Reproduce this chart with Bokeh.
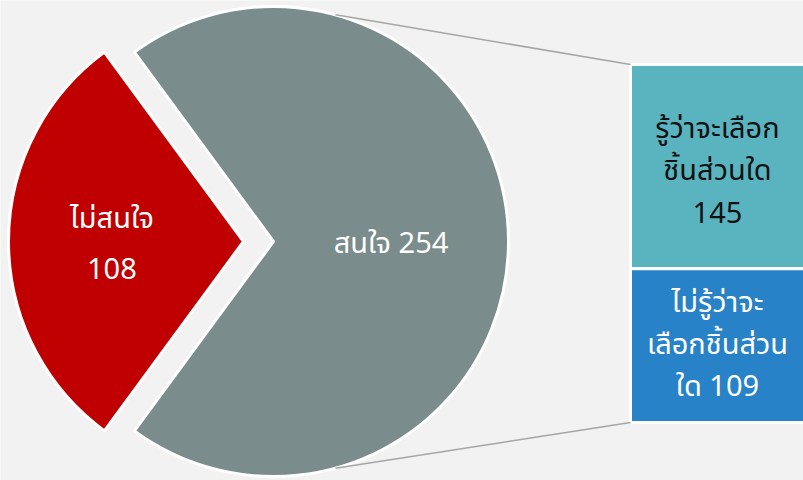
import math
from bokeh.plotting import figure
from bokeh.models import Range1d
from bokeh.core.properties import value
from bokeh.embed import file_html
from bokeh.resources import INLINE

# ---- data ----
pie_labels = ["ไม่สนใจ", "สนใจ"]
pie_values = [108, 254]
pie_colors = ["#c00000", "#7b8c8c"]

bar_labels = ["รู้ว่าจะเลือกชิ้นส่วนใด", "ไม่รู้ว่าจะเลือกชิ้นส่วนใด"]
bar_values = [145, 109]
bar_colors = ["#5ab4c0", "#2782c8"]

pie_text_lines = [["ไม่สนใจ", "108"], ["สนใจ 254"]]
bar_text_lines = [["รู้ว่าจะเลือก", "ชิ้นส่วนใด", "145"], ["ไม่รู้ว่าจะ", "เลือกชิ้นส่วน", "ใด 109"]]
bar_text_colors = ["#111111", "#ffffff"]

# ---- layout (pixel-like units) ----
W, H = 803, 480
R = 235
explode = 30
x0, x1 = -273, 530
y0, y1 = -239, 241

p = figure(width=W, height=H, output_backend="svg", toolbar_location=None,
           x_range=Range1d(x0, x1), y_range=Range1d(y0, y1),
           min_border=0, background_fill_color="#f2f2f2",
           border_fill_color="#f2f2f2", outline_line_color=None)
p.axis.visible = False
p.grid.visible = False

FONT = "'Noto Sans Thai', 'Noto Sans', sans-serif"
total = sum(pie_values)
red_span = 2 * math.pi * pie_values[0] / total
red_start, red_end = math.pi - red_span / 2, math.pi + red_span / 2
gray_start, gray_end = -(math.pi - red_span / 2), (math.pi - red_span / 2)

p.wedge(x=[-explode], y=[0], radius=R, start_angle=[red_start], end_angle=[red_end],
        fill_color=pie_colors[0], line_color="white", line_width=3)
p.wedge(x=[0], y=[0], radius=R, start_angle=[gray_start], end_angle=[gray_end],
        fill_color=pie_colors[1], line_color="white", line_width=3)

# ---- stacked bar ----
bar_left, bar_right = 357, 545
scale = 1.4094
bar_total = sum(bar_values) * scale
bar_top = bar_total / 2 - 2
tops, bottoms = [], []
cur = bar_top
for v in bar_values:
    tops.append(cur)
    cur -= v * scale
    bottoms.append(cur)
p.quad(left=[bar_left] * 2, right=[bar_right] * 2, top=tops, bottom=bottoms,
       fill_color=bar_colors, line_color="white", line_width=3)

# ---- connector lines ----
ang = math.radians(74.7)
p.segment(x0=[R * math.cos(ang), R * math.cos(ang)], y0=[R * math.sin(ang), -R * math.sin(ang)],
          x1=[bar_left, bar_left], y1=[tops[0], bottoms[-1]],
          line_color="#a6a6a6", line_width=1.5)

# ---- labels ----
fs = "29px"
rx = -explode - R * 0.56
p.text(x=[rx, rx], y=[23, -27], text=pie_text_lines[0], text_color="white",
       text_font=value(FONT), text_font_size=fs, text_align="center", text_baseline="middle")
p.text(x=[R * 0.5], y=[-2], text=pie_text_lines[1], text_color="white",
       text_font=value(FONT), text_font_size=fs, text_align="center", text_baseline="middle")
bx = 444
offs = [4, -1]
for i in range(2):
    mid = (tops[i] + bottoms[i]) / 2 - offs[i]
    n = len(bar_text_lines[i])
    ys = [mid + 42 * ((n - 1) / 2 - k) for k in range(n)]
    p.text(x=[bx] * n, y=ys, text=bar_text_lines[i], text_color=bar_text_colors[i],
           text_font=value(FONT), text_font_size=fs, text_align="center", text_baseline="middle")

html = file_html(p, INLINE)
html = html.replace("<body>", '<body style="background-color:#f2f2f2;">', 1)
open("out.html", "w").write(html)
